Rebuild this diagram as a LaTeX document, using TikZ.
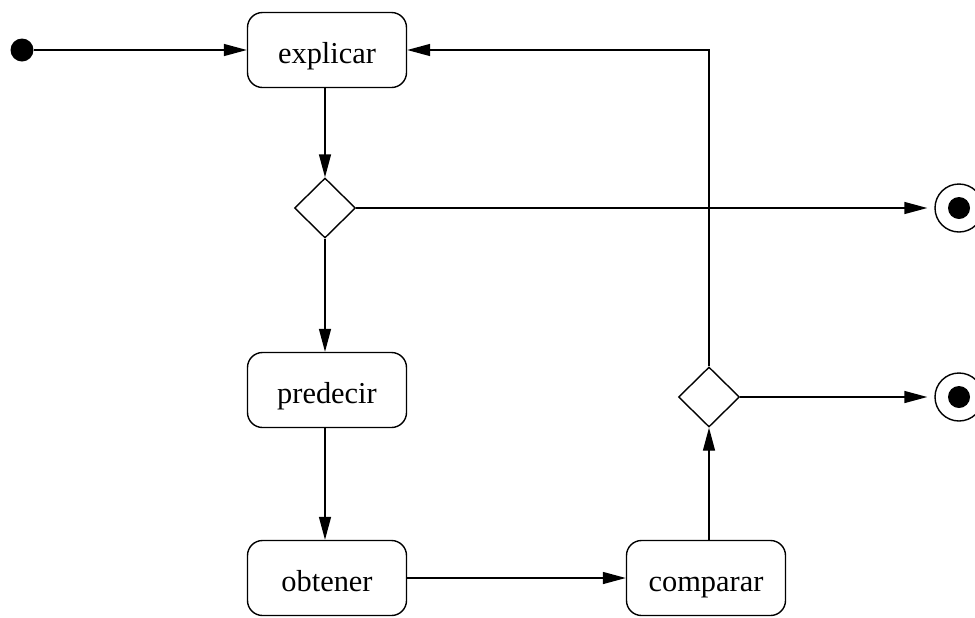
\documentclass[tikz,border=0pt]{standalone}
\usepackage{fontspec}
\setmainfont{Liberation Serif}
\usetikzlibrary{arrows.meta,shapes.geometric}
\begin{document}
\begin{tikzpicture}[x=0.5pt,y=-0.5pt,
  line width=0.7pt,
  every node/.style={inner sep=0pt},
  activity/.style={draw,rounded corners=7.5pt,minimum width=79.5pt,minimum height=37.5pt,
    text height=14.5pt,text depth=1pt,
    font=\fontsize{15.2}{18}\selectfont},
  choice/.style={draw,diamond,minimum width=30.5pt,minimum height=30pt,aspect=1},
  startdot/.style={circle,fill=black,minimum size=11.5pt},
  enddot/.style={circle,draw,minimum size=24pt},
  flow/.style={-{Triangle[length=11.5pt,width=6pt]}}]
\useasboundingbox (0,0) rectangle (975,617);
\clip (0,0) rectangle (975,617);

% states
\node[startdot] (start) at (22,50) {};
\node[activity] (explicar) at (327,50) {explicar};
\node[choice]   (d1) at (325,208) {};
\node[enddot]   (end1) at (959,208) {};
\node[circle,fill=black,minimum size=11pt] at (end1) {};
\node[activity] (predecir) at (327,390) {predecir};
\node[activity] (obtener) at (327,578) {obtener};
\node[activity] (comparar) at (706,578) {comparar};
\node[choice]   (d2) at (709,397) {};
\node[enddot]   (end2) at (959,397) {};
\node[circle,fill=black,minimum size=11pt] at (end2) {};
\coordinate (corner) at (709,50);

% transitions
\draw[flow] (start) -- (explicar);
\draw[flow] (explicar.south -| d1.north) -- (d1.north);
\draw[flow] (d1.east) -- ([xshift=-3.5pt]end1.west);
\draw[flow] (d1.south) -- (d1.south |- predecir.north);
\draw[flow] (predecir.south -| d1.south) -- (obtener.north -| d1.south);
\draw[flow] (obtener) -- (comparar);
\draw[flow] (comparar.north -| d2.south) -- (d2.south);
\draw[flow] (d2.east) -- ([xshift=-3.5pt]end2.west);
\draw[flow] (d2.north) -- (corner) -- (explicar.east);
\end{tikzpicture}
\end{document}
